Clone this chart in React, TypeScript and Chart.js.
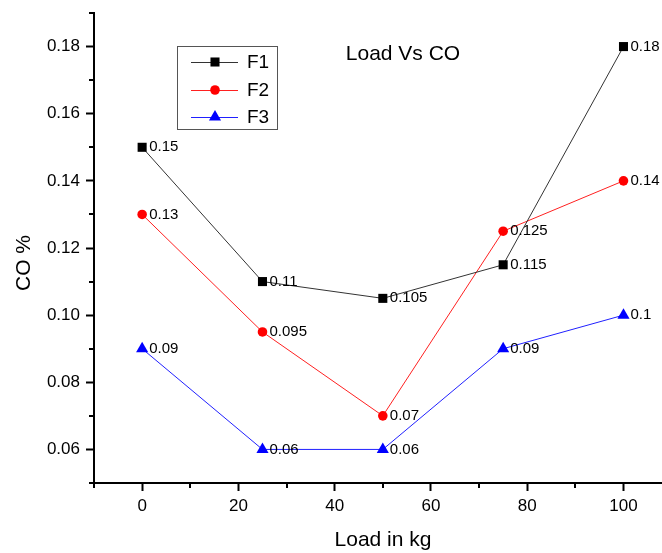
import React, { useEffect, useRef } from 'react';
import { Chart, registerables } from 'chart.js';

Chart.register(...registerables);

const loads = [0, 25, 50, 75, 100];
const f1 = [0.15, 0.11, 0.105, 0.115, 0.18];
const f2 = [0.13, 0.095, 0.07, 0.125, 0.14];
const f3 = [0.09, 0.06, 0.06, 0.09, 0.1];
const seriesNames = ['F1', 'F2', 'F3'];
const xTicks = [0, 20, 40, 60, 80, 100];
const xMinorTicks = [-10, 10, 30, 50, 70, 90];
const yTicks = [0.06, 0.08, 0.1, 0.12, 0.14, 0.16, 0.18];
const yMinorTicks = [0.05, 0.07, 0.09, 0.11, 0.13, 0.15, 0.17, 0.19];
const chartTitle = 'Load Vs CO';
const xTitle = 'Load in kg';
const yTitle = 'CO %';

const FONT = "'Liberation Sans', Arial, sans-serif";
const colors = ['#000000', '#ff0000', '#0000ff'];
const lineColors = ['#333333', '#ff2020', '#2020ff'];
const styles = ['rect', 'circle', 'triangle'];
const radii = [6.4, 4.8, 7];

function drawMarker(ctx: CanvasRenderingContext2D, style: string, x: number, y: number, r: number, color: string) {
  ctx.save();
  ctx.fillStyle = color;
  ctx.beginPath();
  if (style === 'rect') {
    const s = Math.SQRT1_2 * r;
    ctx.rect(x - s, y - s, 2 * s, 2 * s);
  } else if (style === 'circle') {
    ctx.arc(x, y, r, 0, Math.PI * 2);
  } else {
    let rad = 0;
    ctx.moveTo(x + Math.sin(rad) * r, y - Math.cos(rad) * r);
    rad += (2 * Math.PI) / 3;
    ctx.lineTo(x + Math.sin(rad) * r, y - Math.cos(rad) * r);
    rad += (2 * Math.PI) / 3;
    ctx.lineTo(x + Math.sin(rad) * r, y - Math.cos(rad) * r);
    ctx.closePath();
  }
  ctx.fill();
  ctx.restore();
}

const decorPlugin = {
  id: 'decor',
  afterDraw(chart: any) {
    const ctx: CanvasRenderingContext2D = chart.ctx;
    const xs = chart.scales.x;
    const ys = chart.scales.y;
    const area = chart.chartArea;
    ctx.save();
    // minor ticks
    ctx.strokeStyle = '#000';
    ctx.lineWidth = 2;
    ctx.beginPath();
    xMinorTicks.forEach((v) => {
      const px = Math.round(xs.getPixelForValue(v));
      ctx.moveTo(px, area.bottom);
      ctx.lineTo(px, area.bottom + 5);
    });
    yMinorTicks.forEach((v) => {
      const py = Math.round(ys.getPixelForValue(v));
      ctx.moveTo(area.left - 5, py);
      ctx.lineTo(area.left, py);
    });
    ctx.stroke();

    // data labels
    ctx.fillStyle = '#000';
    ctx.font = `15px ${FONT}`;
    ctx.textAlign = 'left';
    ctx.textBaseline = 'middle';
    chart.data.datasets.forEach((ds: any, i: number) => {
      const meta = chart.getDatasetMeta(i);
      meta.data.forEach((pt: any, j: number) => {
        ctx.fillText(String(ds.data[j].y), pt.x + 7, pt.y);
      });
    });

    // title
    ctx.font = `21px ${FONT}`;
    ctx.textAlign = 'center';
    ctx.fillText(chartTitle, 403, 54);

    // axis titles
    ctx.fillText(xTitle, 383, 540);
    ctx.save();
    ctx.translate(24, 263);
    ctx.rotate(-Math.PI / 2);
    ctx.fillText(yTitle, 0, 0);
    ctx.restore();

    // legend
    ctx.strokeStyle = '#555';
    ctx.lineWidth = 1;
    ctx.strokeRect(177.5, 46.5, 100, 83);
    const rows = [62, 90, 117];
    ctx.font = `19px ${FONT}`;
    ctx.textAlign = 'left';
    seriesNames.forEach((name, i) => {
      const y = rows[i];
      ctx.strokeStyle = lineColors[i];
      ctx.lineWidth = 1;
      ctx.beginPath();
      ctx.moveTo(191, y + 0.5);
      ctx.lineTo(238, y + 0.5);
      ctx.stroke();
      drawMarker(ctx, styles[i], 215, y, radii[i], colors[i]);
      ctx.fillStyle = '#000';
      ctx.fillText(name, 247, y + 1);
    });
    ctx.restore();
  },
};

export default function App() {
  const ref = useRef<HTMLCanvasElement | null>(null);
  useEffect(() => {
    if (!ref.current) return;
    const series = [f1, f2, f3];
    const chart = new Chart(ref.current, {
      type: 'line',
      data: {
        datasets: series.map((vals, i) => ({
          label: seriesNames[i],
          data: vals.map((v, j) => ({ x: loads[j], y: v })),
          borderColor: lineColors[i],
          borderWidth: 1,
          backgroundColor: colors[i],
          pointBackgroundColor: colors[i],
          pointBorderWidth: 0,
          pointStyle: styles[i] as any,
          pointRadius: radii[i],
          fill: false,
          tension: 0,
        })),
      },
      options: {
        responsive: false,
        animation: false,
        devicePixelRatio: 1,
        layout: { autoPadding: false, padding: { top: 13, left: 0, right: 0, bottom: 0 } },
        plugins: {
          legend: { display: false },
          title: { display: false },
          tooltip: { enabled: false },
        },
        scales: {
          x: {
            type: 'linear',
            min: -10,
            max: 108,
            afterBuildTicks: (s: any) => {
              s.ticks = xTicks.map((v) => ({ value: v }));
            },
            afterFit: (s: any) => {
              s.height = 70;
              s.paddingLeft = 0;
              s.paddingRight = 0;
            },
            grid: {
              drawOnChartArea: false,
              drawTicks: true,
              tickLength: 8,
              tickWidth: 2,
              tickColor: '#000',
            },
            border: { display: true, color: '#000', width: 2 },
            ticks: {
              color: '#000',
              padding: 5,
              maxRotation: 0,
              font: { size: 17, family: FONT },
              callback: (v: any) => String(v),
            },
          },
          y: {
            type: 'linear',
            min: 0.05,
            max: 0.19,
            afterBuildTicks: (s: any) => {
              s.ticks = yTicks.map((v) => ({ value: v }));
            },
            afterFit: (s: any) => {
              s.width = 94;
              s.paddingTop = 0;
              s.paddingBottom = 0;
            },
            grid: {
              drawOnChartArea: false,
              drawTicks: true,
              tickLength: 8,
              tickWidth: 2,
              tickColor: '#000',
            },
            border: { display: true, color: '#000', width: 2 },
            ticks: {
              color: '#000',
              padding: 6,
              font: { size: 17, family: FONT },
              callback: (v: any) => Number(v).toFixed(2),
            },
          },
        },
      },
      plugins: [decorPlugin],
    });
    return () => chart.destroy();
  }, []);
  return (
    <div style={{ position: 'fixed', left: 0, top: 0, width: 662, height: 553, background: '#fff' }}>
      <canvas ref={ref} width={662} height={553} style={{ display: 'block' }} />
    </div>
  );
}
